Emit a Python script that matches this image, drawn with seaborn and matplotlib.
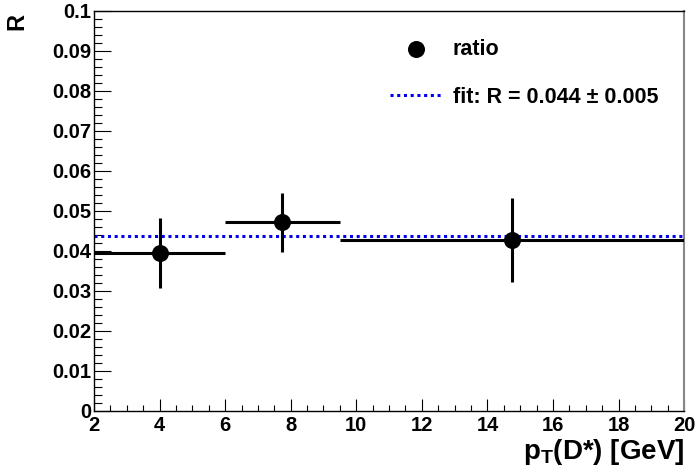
import numpy as np
import pandas as pd
import matplotlib
matplotlib.use('Agg')
import matplotlib.pyplot as plt
from matplotlib.ticker import MultipleLocator, FuncFormatter
import seaborn as sns

# valores
pt_centro = [4.0, 7.75, 14.75]
pt_baixo = [2.0, 6.0, 9.5]
pt_alto = [6.0, 9.5, 20.0]
razao = [0.0394, 0.0471, 0.0428]
razao_erro = [0.0087, 0.0075, 0.0105]
fit_valor = 0.0437
fit_erro = 0.005
x_limites = [2, 20]

df = pd.DataFrame({'pt': pt_centro, 'R': razao, 'erro': razao_erro,
                   'baixo': pt_baixo, 'alto': pt_alto})
df_fit = pd.DataFrame({'pt': x_limites, 'R': [fit_valor, fit_valor]})

sns.set_style('ticks')
plt.rcParams['font.family'] = ['Liberation Sans', 'DejaVu Sans']
plt.rcParams['font.weight'] = 'bold'
plt.rcParams['text.color'] = 'black'
plt.rcParams['axes.labelcolor'] = 'black'
plt.rcParams['xtick.color'] = 'black'
plt.rcParams['ytick.color'] = 'black'
plt.rcParams['mathtext.fontset'] = 'custom'
plt.rcParams['mathtext.rm'] = 'Liberation Sans:bold'
plt.rcParams['mathtext.bf'] = 'Liberation Sans:bold'
plt.rcParams['mathtext.it'] = 'Liberation Sans:bold'

fig = plt.figure(figsize=(6.96, 4.75), dpi=100)
ax = fig.add_axes([0.135, 0.135, 0.848, 0.842])

# linha do ajuste
sns.lineplot(data=df_fit, x='pt', y='R', ax=ax, color='#0000ee', linestyle=(0, (1, 1.2)),
             linewidth=2.2, label=f'fit: R = {fit_valor:.3f} ± {fit_erro:.3f}', zorder=2)

# barras de erro
xerr = [df['pt'] - df['baixo'], df['alto'] - df['pt']]
ax.errorbar(df['pt'], df['R'], xerr=xerr, yerr=df['erro'], fmt='none',
            ecolor='black', elinewidth=2.2, capsize=0, zorder=3)
sns.scatterplot(data=df, x='pt', y='R', ax=ax, color='black', s=150, marker='o',
                edgecolor='black', linewidth=0, label='ratio', zorder=4)

ax.set_xlim(2, 20)
ax.set_ylim(0, 0.1)
ax.xaxis.set_major_locator(MultipleLocator(2))
ax.xaxis.set_minor_locator(MultipleLocator(0.5))
ax.yaxis.set_major_locator(MultipleLocator(0.01))
ax.yaxis.set_minor_locator(MultipleLocator(0.002))
ax.yaxis.set_major_formatter(FuncFormatter(lambda v, p: f'{v:g}'))
ax.tick_params(axis='both', which='both', direction='in', width=0.8, colors='black',
               labelsize=14.5, top=False, right=False)
ax.tick_params(axis='y', which='major', length=12, pad=2)
ax.tick_params(axis='y', which='minor', length=6)
ax.tick_params(axis='x', which='major', length=8.5, pad=4)
ax.tick_params(axis='x', which='minor', length=4.3)
for lab in ax.get_xticklabels() + ax.get_yticklabels():
    lab.set_fontweight('bold')

for s in ['left', 'bottom', 'top']:
    ax.spines[s].set_color('black')
    ax.spines[s].set_linewidth(1)
ax.spines['right'].set_color('#888888')
ax.spines['right'].set_linewidth(1.5)

ax.set_xlabel(r'p$_\mathrm{T}$(D*) [GeV]', fontsize=20, fontweight='bold', loc='right', labelpad=1)
ax.set_ylabel('R', fontsize=17, fontweight='bold', loc='top', labelpad=17)
ax.yaxis.label.set_y(0.995)

# legenda
handles, labels = ax.get_legend_handles_labels()
ordem = [labels.index('ratio'), 1 - labels.index('ratio')]
ax.legend([handles[i] for i in ordem], [labels[i] for i in ordem],
          loc='upper left', bbox_to_anchor=(0.502, 0.93), frameon=False,
          prop={'weight': 'bold', 'size': 15.5}, handlelength=2.4,
          handletextpad=0.5, labelspacing=1.25, borderpad=0, borderaxespad=0)

fig.savefig('out.png', dpi=100)
